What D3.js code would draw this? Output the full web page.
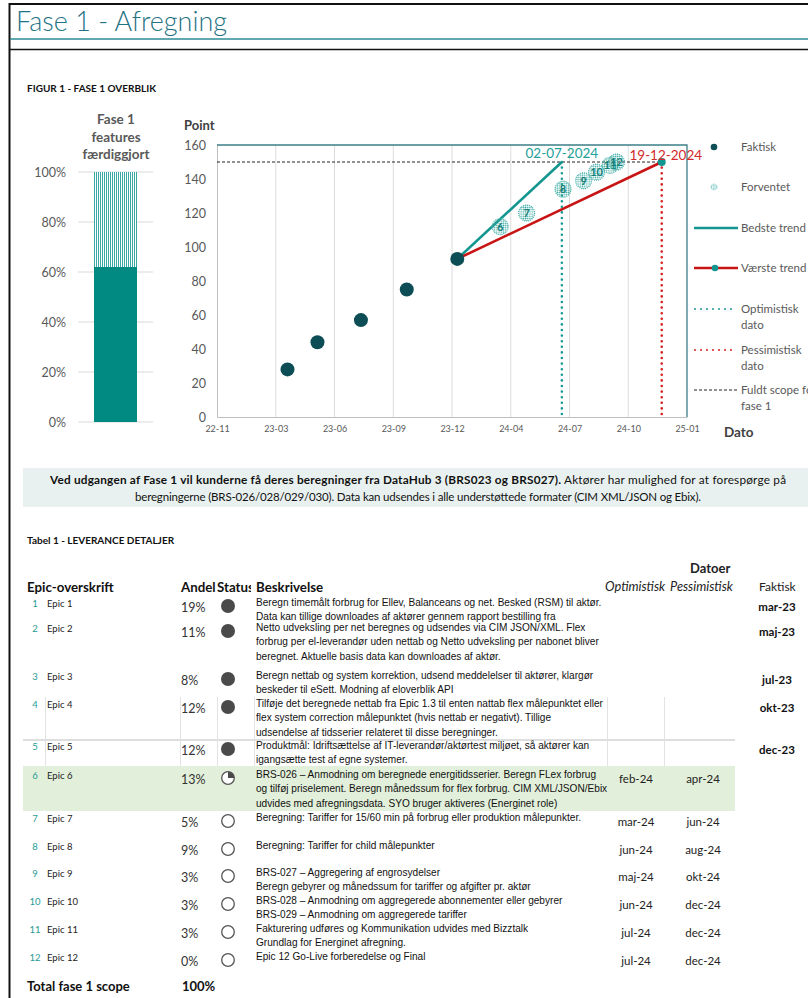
<!DOCTYPE html>
<html>
<head>
<meta charset="utf-8">
<script src="https://cdn.jsdelivr.net/npm/d3@7"></script>
<style>
body { margin: 0; background: #fff; }
svg { display: block; font-family: Lato, "Open Sans", sans-serif; }
.narrow { font-family: "Liberation Sans Narrow", "Liberation Sans", sans-serif; }
</style>
</head>
<body>
<div id="page"></div>
<script>
// ---- data ----
var barTicks = [0, 20, 40, 60, 80, 100];
var barDone = 62;          // % features done

var actualDates = ['2023-03-23', '2023-05-13', '2023-07-26', '2023-10-12', '2024-01-06'];
var actualPoints = [28, 44, 57, 75, 93];

var expectedLabels = [6, 7, 8, 9, 10, 11, 12];
var expectedDates = ['2024-03-19', '2024-05-03', '2024-07-04', '2024-08-08', '2024-08-30', '2024-09-22', '2024-10-03'];
var expectedPoints = [112, 120, 134, 139, 144, 148, 150];

var bestTrend = [['2024-01-06', 93], ['2024-07-02', 150]];
var worstTrend = [['2024-01-06', 93], ['2024-12-19', 150]];
var fullScope = 150;
var optDate = '2024-07-02';
var pesDate = '2024-12-19';
var optLabel = '02-07-2024';
var pesLabel = '19-12-2024';

var xTicks = ['2022-11-23', '2023-03-03', '2023-06-11', '2023-09-19', '2023-12-28',
              '2024-04-06', '2024-07-15', '2024-10-23', '2025-01-31'];
var yTicks = [0, 20, 40, 60, 80, 100, 120, 140, 160];

var legendItems = ['Faktisk', 'Forventet', 'Bedste trend', 'Værste trend',
                   'Optimistisk|dato', 'Pessimistisk|dato', 'Fuldt scope for|fase 1'];

var infoBold = 'Ved udgangen af Fase 1 vil kunderne få deres beregninger fra DataHub 3 (BRS023 og BRS027).';
var infoLine1 = ' Aktører har mulighed for at forespørge på';
var infoLine2 = 'beregningerne (BRS-026/028/029/030). Data kan udsendes i alle understøttede formater (CIM XML/JSON og Ebix).';

var epicNames = ['Epic 1', 'Epic 2', 'Epic 3', 'Epic 4', 'Epic 5', 'Epic 6',
                 'Epic 7', 'Epic 8', 'Epic 9', 'Epic 10', 'Epic 11', 'Epic 12'];
var epicShare = ['19%', '11%', '8%', '12%', '12%', '13%', '5%', '9%', '3%', '3%', '3%', '0%'];
var epicStatus = [1, 1, 1, 1, 1, 0.25, 0, 0, 0, 0, 0, 0];
var epicDesc = [
    ['Beregn timemålt forbrug for Ellev, Balanceans og net. Besked (RSM) til aktør.',
     'Data kan tillige downloades af aktører gennem rapport bestilling fra'],
    ['Netto udveksling per net beregnes og udsendes via CIM JSON/XML. Flex',
     'forbrug per el-leverandør uden nettab og Netto udveksling per nabonet bliver',
     'beregnet. Aktuelle basis data kan downloades af aktør.'],
    ['Beregn nettab og system korrektion, udsend meddelelser til aktører, klargør',
     'beskeder til eSett. Modning af eloverblik API'],
    ['Tilføje det beregnede nettab fra Epic 1.3 til enten nattab flex målepunktet eller',
     'flex system correction målepunktet (hvis nettab er negativt). Tillige',
     'udsendelse af tidsserier relateret til disse beregninger.'],
    ['Produktmål: Idriftsættelse af IT-leverandør/aktørtest miljøet, så aktører kan',
     'igangsætte test af egne systemer.'],
    ['BRS-026 – Anmodning om beregnede energitidsserier. Beregn FLex forbrug',
     'og tilføj priselement. Beregn månedssum for flex forbrug. CIM XML/JSON/Ebix',
     'udvides med afregningsdata. SYO bruger aktiveres (Energinet role)'],
    ['Beregning: Tariffer for 15/60 min på forbrug eller produktion målepunkter.'],
    ['Beregning: Tariffer for child målepunkter'],
    ['BRS-027 – Aggregering af engrosydelser',
     'Beregn gebyrer og månedssum for tariffer og afgifter pr. aktør'],
    ['BRS-028 – Anmodning om aggregerede abonnementer eller gebyrer',
     'BRS-029 – Anmodning om aggregerede tariffer'],
    ['Fakturering udføres og Kommunikation udvides med Bizztalk',
     'Grundlag for Energinet afregning.'],
    ['Epic 12 Go-Live forberedelse og Final']
];
var epicOpt = ['', '', '', '', '', 'feb-24', 'mar-24', 'jun-24', 'maj-24', 'jun-24', 'jul-24', 'jul-24'];
var epicPes = ['', '', '', '', '', 'apr-24', 'jun-24', 'aug-24', 'okt-24', 'dec-24', 'dec-24', 'dec-24'];
var epicAct = ['mar-23', 'maj-23', 'jul-23', 'okt-23', 'dec-23', '', '', '', '', '', '', ''];
var totalLabel = 'Total fase 1 scope';
var totalShare = '100%';

// ---- page ----
var W = 808, H = 998;
var svg = d3.select('#page').append('svg')
    .attr('width', W)
    .attr('height', H);

var defs = svg.append('defs');
var stripes = defs.append('pattern')
    .attr('id', 'stripes')
    .attr('patternUnits', 'userSpaceOnUse')
    .attr('width', 2).attr('height', 4);
stripes.append('rect').attr('width', 2).attr('height', 4).attr('fill', '#fff');
stripes.append('rect').attr('width', 1).attr('height', 4).attr('fill', '#3aa8a2');

var speck = defs.append('pattern')
    .attr('id', 'speck')
    .attr('patternUnits', 'userSpaceOnUse')
    .attr('width', 2.2).attr('height', 2.2);
speck.append('circle').attr('cx', 1.1).attr('cy', 1.1).attr('r', 0.75).attr('fill', '#35a7a0');

defs.append('clipPath').attr('id', 'statusClip')
    .append('rect').attr('x', 0).attr('y', 570).attr('width', 251).attr('height', 30);

// frame
svg.append('line').attr('x1', 9).attr('x2', W).attr('y1', 4).attr('y2', 4)
    .attr('stroke', '#111').attr('stroke-width', 2);
svg.append('line').attr('x1', 9.5).attr('x2', 9.5).attr('y1', 3).attr('y2', H)
    .attr('stroke', '#111').attr('stroke-width', 2);
svg.append('line').attr('x1', 10).attr('x2', W).attr('y1', 39).attr('y2', 39)
    .attr('stroke', '#2c8a95').attr('stroke-width', 1.3);
svg.append('line').attr('x1', 10).attr('x2', W).attr('y1', 49.5).attr('y2', 49.5)
    .attr('stroke', '#111').attr('stroke-width', 1.5);

svg.append('text')
    .attr('x', 16).attr('y', 31)
    .attr('font-size', '27px')
    .attr('font-weight', 300)
    .attr('fill', '#1f7384')
    .text('Fase 1 - Afregning');

svg.append('text')
    .attr('x', 27).attr('y', 92)
    .attr('font-size', '10px')
    .attr('font-weight', 'bold')
    .attr('fill', '#111')
    .text('FIGUR 1 - FASE 1 OVERBLIK');

// ---- left bar ----
var yBar = d3.scaleLinear().domain([0, 100]).range([422, 172]);
var bar = svg.append('g');
bar.selectAll('line.grid')
    .data(barTicks)
    .enter()
    .append('line')
    .attr('x1', 78).attr('x2', 153)
    .attr('y1', function(d) { return yBar(d); })
    .attr('y2', function(d) { return yBar(d); })
    .attr('stroke', '#d9d9d9');
bar.selectAll('text.tick')
    .data(barTicks)
    .enter()
    .append('text')
    .attr('x', 66)
    .attr('y', function(d) { return yBar(d) + 4.5; })
    .attr('text-anchor', 'end')
    .attr('font-size', '12.5px')
    .attr('fill', '#595959')
    .text(function(d) { return d + '%'; });
bar.append('rect')
    .attr('x', 94).attr('width', 43)
    .attr('y', yBar(100))
    .attr('height', yBar(barDone) - yBar(100))
    .attr('fill', 'url(#stripes)');
bar.append('rect')
    .attr('x', 94).attr('width', 43)
    .attr('y', yBar(barDone))
    .attr('height', yBar(0) - yBar(barDone))
    .attr('fill', '#008a82');
bar.selectAll('text.title')
    .data(['Fase 1', 'features', 'færdiggjort'])
    .enter()
    .append('text')
    .attr('x', 116)
    .attr('y', function(d, i) { return 124 + i * 17.5; })
    .attr('text-anchor', 'middle')
    .attr('font-size', '13.5px')
    .attr('font-weight', 'bold')
    .attr('fill', '#595959')
    .text(function(d) { return d; });

// ---- scatter ----
var parse = d3.utcParse('%Y-%m-%d');
var x = d3.scaleUtc()
    .domain([parse(xTicks[0]), parse(xTicks[xTicks.length - 1])])
    .range([217, 687]);
var y = d3.scaleLinear().domain([0, 160]).range([417, 145]);
var g = svg.append('g');

g.selectAll('line.vgrid')
    .data(xTicks.slice(1, -1))
    .enter()
    .append('line')
    .attr('x1', function(d) { return x(parse(d)); })
    .attr('x2', function(d) { return x(parse(d)); })
    .attr('y1', y(0)).attr('y2', y(160))
    .attr('stroke', '#dcdcdc');

var xAxis = g.append('g')
    .attr('transform', 'translate(0,' + y(0) + ')')
    .call(d3.axisBottom(x)
        .tickValues(xTicks.map(parse))
        .tickFormat(d3.utcFormat('%y-%m'))
        .tickSize(0)
        .tickPadding(9));
xAxis.select('.domain').attr('stroke', '#bfbfbf');
xAxis.selectAll('text').attr('font-size', '9px').attr('fill', '#595959')
    .attr('font-family', 'Lato, sans-serif');

var yAxis = g.append('g')
    .attr('transform', 'translate(' + x.range()[0] + ',0)')
    .call(d3.axisLeft(y).tickValues(yTicks).tickSize(0).tickPadding(11));
yAxis.select('.domain').attr('stroke', '#bfbfbf');
yAxis.selectAll('text').attr('font-size', '12.5px').attr('fill', '#595959')
    .attr('font-family', 'Lato, sans-serif');

// plot border top + right
g.append('path')
    .attr('d', 'M' + x.range()[0] + ',' + y(160) + 'H' + x.range()[1] + 'V' + y(0))
    .attr('fill', 'none')
    .attr('stroke', '#3d7f89')
    .attr('stroke-width', 1.3);

g.append('text').attr('x', 184).attr('y', 130)
    .attr('font-size', '13px').attr('font-weight', 'bold').attr('fill', '#404040')
    .text('Point');
g.append('text').attr('x', 724).attr('y', 437)
    .attr('font-size', '13.5px').attr('font-weight', 'bold').attr('fill', '#404040')
    .text('Dato');

// full scope line
g.append('line')
    .attr('x1', x.range()[0]).attr('x2', x(parse(pesDate)))
    .attr('y1', y(fullScope)).attr('y2', y(fullScope))
    .attr('stroke', '#222').attr('stroke-width', 1)
    .attr('stroke-dasharray', '3,2');

// date verticals
g.append('line')
    .attr('x1', x(parse(optDate))).attr('x2', x(parse(optDate)))
    .attr('y1', y(fullScope)).attr('y2', y(0))
    .attr('stroke', '#1a9a94').attr('stroke-width', 2.6)
    .attr('stroke-linecap', 'round').attr('stroke-dasharray', '0,5.6');
g.append('line')
    .attr('x1', x(parse(pesDate))).attr('x2', x(parse(pesDate)))
    .attr('y1', y(fullScope)).attr('y2', y(0))
    .attr('stroke', '#d42020').attr('stroke-width', 2.6)
    .attr('stroke-linecap', 'round').attr('stroke-dasharray', '0,5.6');

var line = d3.line()
    .x(function(d) { return x(parse(d[0])); })
    .y(function(d) { return y(d[1]); });

g.append('path').attr('d', line(bestTrend))
    .attr('fill', 'none').attr('stroke', '#13968f').attr('stroke-width', 2.6);
g.append('path').attr('d', line(worstTrend))
    .attr('fill', 'none').attr('stroke', '#c81414').attr('stroke-width', 2.6);
g.append('circle')
    .attr('cx', x(parse(worstTrend[1][0]))).attr('cy', y(worstTrend[1][1]))
    .attr('r', 4).attr('fill', '#13968f');

// expected
var exp = g.selectAll('g.exp')
    .data(expectedLabels)
    .enter()
    .append('g')
    .attr('transform', function(d, i) {
        return 'translate(' + x(parse(expectedDates[i])) + ',' + y(expectedPoints[i]) + ')';
    });
exp.append('circle').attr('r', 8)
    .attr('fill', 'url(#speck)')
    .attr('stroke', '#4fb3ad').attr('stroke-width', 1.2)
    .attr('stroke-dasharray', '1,1');
exp.append('text')
    .attr('text-anchor', 'middle').attr('y', 4)
    .attr('font-size', '11px').attr('font-weight', 'bold')
    .attr('fill', '#157f7a')
    .text(function(d) { return d; });

// actual
g.selectAll('circle.act')
    .data(actualPoints)
    .enter()
    .append('circle')
    .attr('cx', function(d, i) { return x(parse(actualDates[i])); })
    .attr('cy', function(d) { return y(d); })
    .attr('r', 7)
    .attr('fill', '#0d4e56');

g.append('text')
    .attr('x', x(parse(optDate))).attr('y', 158)
    .attr('text-anchor', 'middle')
    .attr('font-size', '13.5px').attr('fill', '#22a09a')
    .text(optLabel);
g.append('text')
    .attr('x', x(parse(pesDate)) + 4).attr('y', 160)
    .attr('text-anchor', 'middle')
    .attr('font-size', '13.5px').attr('fill', '#d22a2a')
    .text(pesLabel);

// legend
var leg = svg.append('g');
var legY = [147, 187, 228, 268, 309, 350, 390];
legendItems.forEach(function(name, i) {
    var ly = legY[i];
    var parts = name.split('|');
    parts.forEach(function(p, j) {
        leg.append('text')
            .attr('x', 741).attr('y', ly + 4 + j * 15.5)
            .attr('font-size', '11.5px').attr('fill', '#595959')
            .text(p);
    });
    if (i === 0) {
        leg.append('circle').attr('cx', 714).attr('cy', ly).attr('r', 3.3).attr('fill', '#0d4e56');
    } else if (i === 1) {
        leg.append('circle').attr('cx', 714).attr('cy', ly).attr('r', 3)
            .attr('fill', 'url(#speck)').attr('stroke', '#5cbab4').attr('stroke-width', 0.7)
            .attr('stroke-dasharray', '0.8,0.8');
    } else if (i === 2 || i === 3) {
        leg.append('line').attr('x1', 694).attr('x2', 738).attr('y1', ly).attr('y2', ly)
            .attr('stroke', i === 2 ? '#13968f' : '#c81414').attr('stroke-width', 2.6);
        if (i === 3) {
            leg.append('circle').attr('cx', 715).attr('cy', ly).attr('r', 3.3).attr('fill', '#13968f');
        }
    } else if (i === 4 || i === 5) {
        leg.append('line').attr('x1', 695).attr('x2', 737).attr('y1', ly).attr('y2', ly)
            .attr('stroke', i === 4 ? '#1a9a94' : '#d42020').attr('stroke-width', 2)
            .attr('stroke-linecap', 'round').attr('stroke-dasharray', '0,6');
    } else {
        leg.append('line').attr('x1', 694).attr('x2', 738).attr('y1', ly).attr('y2', ly)
            .attr('stroke', '#222').attr('stroke-width', 1).attr('stroke-dasharray', '3,2');
    }
});

// ---- info box ----
svg.append('rect')
    .attr('x', 23).attr('y', 468).attr('width', W - 23).attr('height', 39)
    .attr('fill', '#e9f1f0');
var info1 = svg.append('text')
    .attr('x', 418).attr('y', 484)
    .attr('text-anchor', 'middle')
    .attr('textLength', 736).attr('lengthAdjust', 'spacing')
    .attr('font-size', '11.8px').attr('fill', '#111');
info1.append('tspan').attr('font-weight', 'bold').text(infoBold);
info1.append('tspan').text(infoLine1);
svg.append('text')
    .attr('x', 418).attr('y', 501)
    .attr('text-anchor', 'middle')
    .attr('textLength', 566).attr('lengthAdjust', 'spacing')
    .attr('font-size', '11.5px').attr('fill', '#111')
    .text(infoLine2);

// ---- table ----
var tbl = svg.append('g');
tbl.append('text').attr('x', 27).attr('y', 544)
    .attr('font-size', '10px').attr('font-weight', 'bold').attr('fill', '#111')
    .text('Tabel 1 - LEVERANCE DETALJER');
tbl.append('text').attr('x', 690).attr('y', 573)
    .attr('font-size', '13px').attr('font-weight', 'bold').attr('fill', '#222')
    .text('Datoer');

var hdr = [['Epic-overskrift', 27], ['Andel', 181], ['Beskrivelse', 256]];
hdr.forEach(function(h) {
    tbl.append('text').attr('x', h[1]).attr('y', 592)
        .attr('font-size', '13.3px').attr('font-weight', 'bold').attr('fill', '#111')
        .text(h[0]);
});
tbl.append('text').attr('x', 217).attr('y', 592)
    .attr('clip-path', 'url(#statusClip)')
    .attr('font-size', '13.3px').attr('font-weight', 'bold').attr('fill', '#111')
    .text('Status');
tbl.append('text').attr('x', 605).attr('y', 591)
    .attr('font-size', '12.8px').attr('font-style', 'italic').attr('fill', '#222')
    .text('Optimistisk');
tbl.append('text').attr('x', 670).attr('y', 591)
    .attr('font-size', '12.8px').attr('font-style', 'italic').attr('fill', '#222')
    .text('Pessimistisk');
tbl.append('text').attr('x', 759).attr('y', 591)
    .attr('font-size', '12px').attr('fill', '#222')
    .text('Faktisk');

var rowY = [603, 628, 676, 704, 746, 775, 818, 846, 873, 901, 929, 957];

// row 6 highlight + light cell borders
tbl.append('rect').attr('x', 23).attr('y', 766).attr('width', 712).attr('height', 45)
    .attr('fill', '#e2efda');
[45, 180, 217, 254, 607, 664].forEach(function(vx) {
    tbl.append('line').attr('x1', vx + 0.5).attr('x2', vx + 0.5).attr('y1', 697).attr('y2', 766)
        .attr('stroke', '#e3e3e3');
});
tbl.append('line').attr('x1', 23).attr('x2', 735).attr('y1', 740).attr('y2', 740)
    .attr('stroke', '#dedede').attr('stroke-width', 2);

var rows = tbl.selectAll('g.row')
    .data(epicNames)
    .enter()
    .append('g')
    .attr('transform', function(d, i) { return 'translate(0,' + rowY[i] + ')'; });

rows.append('text')
    .attr('x', 35).attr('y', 3.5)
    .attr('text-anchor', 'middle')
    .attr('font-size', '9.5px').attr('fill', '#1f9b95')
    .text(function(d, i) { return i + 1; });
rows.append('text')
    .attr('x', 47).attr('y', 3.5)
    .attr('font-size', '9.5px').attr('fill', '#222')
    .text(function(d) { return d; });
rows.append('text')
    .attr('x', 181).attr('y', 9)
    .attr('font-size', '12.5px').attr('fill', '#333')
    .text(function(d, i) { return epicShare[i]; });

rows.each(function(d, i) {
    var r = d3.select(this);
    var s = epicStatus[i];
    if (s === 1) {
        r.append('circle').attr('cx', 228).attr('cy', 3).attr('r', 7).attr('fill', '#4a4a4a');
    } else {
        r.append('circle').attr('cx', 228).attr('cy', 3).attr('r', 6.3)
            .attr('fill', '#fff').attr('stroke', '#555').attr('stroke-width', 1.3);
        if (s > 0) {
            var arc = d3.arc().innerRadius(0).outerRadius(6.3)
                .startAngle(0).endAngle(s * 2 * Math.PI);
            r.append('path').attr('d', arc())
                .attr('transform', 'translate(228,3)')
                .attr('fill', '#4a4a4a');
        }
    }
    epicDesc[i].forEach(function(t, j) {
        r.append('text')
            .attr('class', 'narrow')
            .attr('x', 256).attr('y', 2.5 + j * 14.8)
            .attr('font-size', '10.1px').attr('fill', '#111')
            .text(t);
    });
});

rows.append('text')
    .attr('x', 636).attr('y', 7.5)
    .attr('text-anchor', 'middle')
    .attr('font-size', '11.5px').attr('fill', '#222')
    .text(function(d, i) { return epicOpt[i]; });
rows.append('text')
    .attr('x', 703).attr('y', 7.5)
    .attr('text-anchor', 'middle')
    .attr('font-size', '11.5px').attr('fill', '#222')
    .text(function(d, i) { return epicPes[i]; });
rows.append('text')
    .attr('x', 777).attr('y', 7.5)
    .attr('text-anchor', 'middle')
    .attr('font-size', '11.5px').attr('font-weight', 'bold').attr('fill', '#111')
    .text(function(d, i) { return epicAct[i]; });

tbl.append('text').attr('x', 27).attr('y', 991)
    .attr('font-size', '13px').attr('font-weight', 'bold').attr('fill', '#111')
    .text(totalLabel);
tbl.append('text').attr('x', 182).attr('y', 991)
    .attr('font-size', '13px').attr('font-weight', 'bold').attr('fill', '#111')
    .text(totalShare);
</script>
</body>
</html>
